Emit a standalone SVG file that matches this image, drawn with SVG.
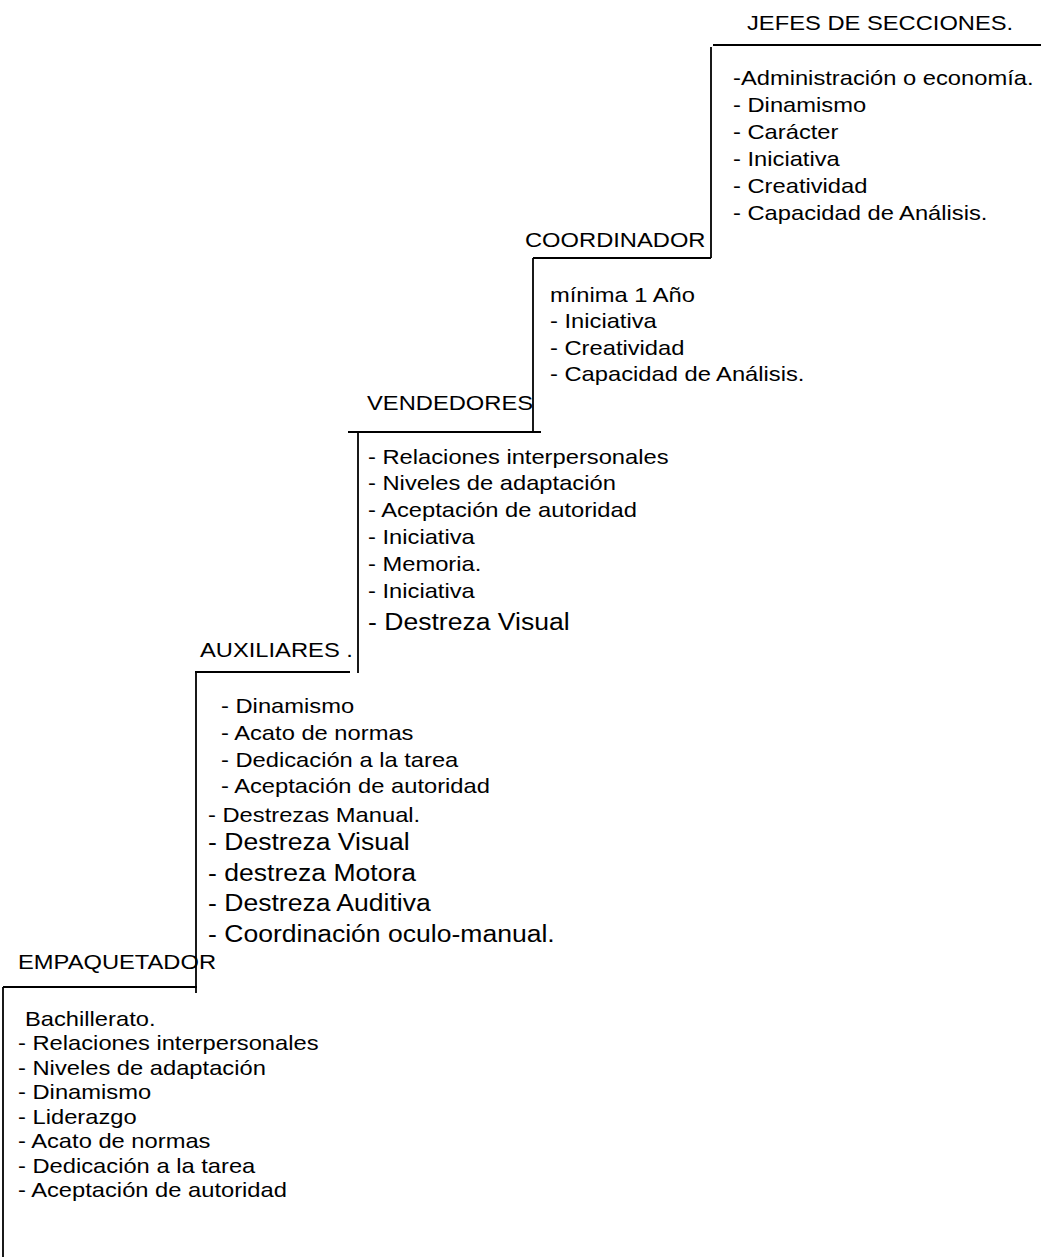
<svg xmlns="http://www.w3.org/2000/svg" width="1045" height="1257" viewBox="0 0 1045 1257">
<style>
text{font-family:"Liberation Sans",Arial,Helvetica,sans-serif;font-size:21px;fill:#000}
text.b{font-size:23.5px}
.c line{stroke:#000;stroke-width:1.8;fill:none}
</style>
<rect width="1045" height="1257" fill="#fff"/>
<g id="connectors" class="c">
<line x1="713" y1="45" x2="1041" y2="45"/>
<line x1="711" y1="47" x2="711" y2="258"/>
<line x1="533" y1="258" x2="711" y2="258"/>
<line x1="533" y1="258" x2="533" y2="433"/>
<line x1="348" y1="432" x2="541" y2="432"/>
<line x1="358" y1="432" x2="358" y2="673"/>
<line x1="195" y1="672" x2="350" y2="672"/>
<line x1="196" y1="672" x2="196" y2="993"/>
<line x1="3" y1="987" x2="197" y2="987"/>
<line x1="3" y1="987" x2="3" y2="1257"/>
</g>
<g id="jefes">
<text transform="translate(747 30) scale(1.13 1)">JEFES DE SECCIONES.</text>
<text transform="translate(733 85) scale(1.13 1)">-Administración o economía.</text>
<text transform="translate(733 112) scale(1.13 1)">- Dinamismo</text>
<text transform="translate(733 139) scale(1.13 1)">- Carácter</text>
<text transform="translate(733 166) scale(1.13 1)">- Iniciativa</text>
<text transform="translate(733 193) scale(1.13 1)">- Creatividad</text>
<text transform="translate(733 220) scale(1.13 1)">- Capacidad de Análisis.</text>
</g>
<g id="coordinador">
<text transform="translate(525 247) scale(1.13 1)">COORDINADOR</text>
<text transform="translate(550 302) scale(1.13 1)">mínima 1 Año</text>
<text transform="translate(550 328) scale(1.13 1)">- Iniciativa</text>
<text transform="translate(550 355) scale(1.13 1)">- Creatividad</text>
<text transform="translate(550 381) scale(1.13 1)">- Capacidad de Análisis.</text>
</g>
<g id="vendedores">
<text transform="translate(367 410) scale(1.13 1)">VENDEDORES</text>
<text transform="translate(368 464) scale(1.13 1)">- Relaciones interpersonales</text>
<text transform="translate(368 490) scale(1.13 1)">- Niveles de adaptación</text>
<text transform="translate(368 517) scale(1.13 1)">- Aceptación de autoridad</text>
<text transform="translate(368 544) scale(1.13 1)">- Iniciativa</text>
<text transform="translate(368 571) scale(1.13 1)">- Memoria.</text>
<text transform="translate(368 598) scale(1.13 1)">- Iniciativa</text>
<text class="b" transform="translate(368 630) scale(1.13 1)">- Destreza Visual</text>
</g>
<g id="auxiliares">
<text transform="translate(200 657) scale(1.13 1)">AUXILIARES .</text>
<text transform="translate(221 713) scale(1.13 1)">- Dinamismo</text>
<text transform="translate(221 740) scale(1.13 1)">- Acato de normas</text>
<text transform="translate(221 767) scale(1.13 1)">- Dedicación a la tarea</text>
<text transform="translate(221 793) scale(1.13 1)">- Aceptación de autoridad</text>
<text transform="translate(208 822) scale(1.13 1)">- Destrezas Manual.</text>
<text class="b" transform="translate(208 850) scale(1.13 1)">- Destreza Visual</text>
<text class="b" transform="translate(208 881) scale(1.13 1)">- destreza Motora</text>
<text class="b" transform="translate(208 911) scale(1.13 1)">- Destreza Auditiva</text>
<text class="b" transform="translate(208 942) scale(1.13 1)">- Coordinación oculo-manual.</text>
</g>
<g id="empaquetador">
<text transform="translate(18 969) scale(1.13 1)">EMPAQUETADOR</text>
<text transform="translate(25 1026) scale(1.13 1)">Bachillerato.</text>
<text transform="translate(18 1050) scale(1.13 1)">- Relaciones interpersonales</text>
<text transform="translate(18 1075) scale(1.13 1)">- Niveles de adaptación</text>
<text transform="translate(18 1099) scale(1.13 1)">- Dinamismo</text>
<text transform="translate(18 1124) scale(1.13 1)">- Liderazgo</text>
<text transform="translate(18 1148) scale(1.13 1)">- Acato de normas</text>
<text transform="translate(18 1173) scale(1.13 1)">- Dedicación a la tarea</text>
<text transform="translate(18 1197) scale(1.13 1)">- Aceptación de autoridad</text>
</g>
</svg>
